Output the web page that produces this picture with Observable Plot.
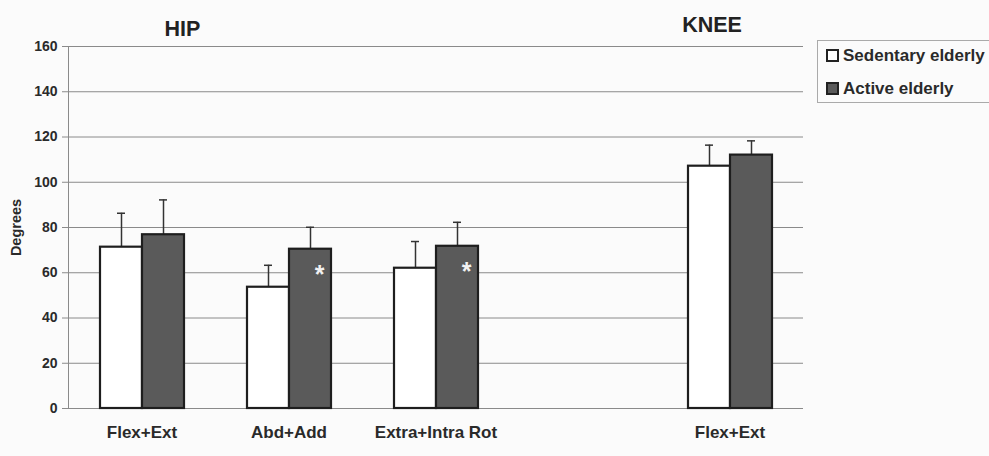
<!DOCTYPE html>
<html>
<head>
<meta charset="utf-8">
<script src="https://cdn.jsdelivr.net/npm/d3@7"></script>
<script src="https://cdn.jsdelivr.net/npm/@observablehq/plot@0.6"></script>
<style>
  html, body { margin: 0; padding: 0; background: #fbfbfb; }
  #wrap { position: relative; width: 989px; height: 456px; overflow: hidden; font-family: "Liberation Sans", Arial, sans-serif; }
  #legend { position: absolute; left: 817px; top: 40px; width: 190px; height: 61px; border: 1px solid #aaa; background: #fbfbfb; }
  .item { position: absolute; left: 8px; font-weight: bold; font-size: 17px; line-height: 19px; color: #2a2a2a; display: flex; align-items: center; white-space: nowrap; }
  .sw { width: 9px; height: 9px; border: 2px solid #222; margin-right: 4px; }
</style>
</head>
<body>
<div id="wrap">
  <div id="chart"></div>
  <div id="legend"></div>
</div>
<script>
const catKeys = ["hipFlex", "hipAbd", "hipRot", "blank", "kneeFlex"];
const catLabels = ["Flex+Ext", "Abd+Add", "Extra+Intra Rot", "", "Flex+Ext"];
const groups = ["Sedentary elderly", "Active elderly"];
const groupFills = ["#ffffff", "#5a5a5a"];
const sedentaryMean = [71.3, 53.6, 62.0, null, 107.1];
const sedentarySD = [15.0, 9.7, 11.8, null, 9.3];
const activeMean = [76.8, 70.4, 71.7, null, 112.0];
const activeSD = [15.4, 9.7, 10.6, null, 6.3];
const significant = [false, true, true, false, false];
const hipTitle = [{cat: "hipFlex", title: "HIP"}];
const kneeTitle = [{cat: "kneeFlex", title: "KNEE"}];
const yTicks = [0, 20, 40, 60, 80, 100, 120, 140, 160];

const rows = [];
catKeys.forEach((c, i) => {
  rows.push({cat: c, group: groups[0], mean: sedentaryMean[i], sd: sedentarySD[i], sig: false});
  rows.push({cat: c, group: groups[1], mean: activeMean[i], sd: activeSD[i], sig: significant[i]});
});
const valid = rows.filter(d => d.mean != null);
const labelOf = Object.fromEntries(catKeys.map((k, i) => [k, catLabels[i]]));
const tickRows = yTicks.map(v => ({cat: catKeys[0], v}));

const chart = Plot.plot({
  width: 989,
  height: 456,
  marginLeft: 68,
  marginRight: 186,
  marginTop: 46,
  marginBottom: 48,
  style: {background: "transparent", fontFamily: "Liberation Sans, Arial, sans-serif", fontWeight: "bold", color: "#2a2a2a"},
  fx: {domain: catKeys, padding: 0, label: null},
  x: {domain: groups, paddingInner: 0, paddingOuter: 0.75, axis: null},
  y: {domain: [0, 160], label: null},
  color: {domain: groups, range: groupFills},
  marks: [
    Plot.ruleY(yTicks, {stroke: "#8a8a8a", strokeWidth: 1}),
    Plot.frame({anchor: "left", stroke: "#8a8a8a", facet: "super"}),
    Plot.axisY({ticks: yTicks, tickSize: 6, tickPadding: 5, tickFormat: () => "", fontSize: 14.5, stroke: "#8a8a8a", label: "Degrees", labelAnchor: "center", labelOffset: 57.5, labelArrow: false}),
    Plot.text(tickRows, {fx: "cat", y: "v", text: d => String(d.v), frameAnchor: "left", textAnchor: "end", dx: -11, fontSize: 14, fill: "#2a2a2a"}),
    Plot.axisFx({anchor: "bottom", tickSize: 0, tickPadding: 17.5, fontSize: 17, tickFormat: d => labelOf[d], label: null}),
    Plot.ruleX(valid, {fx: "cat", x: "group", y1: "mean", y2: d => d.mean + d.sd, stroke: "#333", strokeWidth: 1.5}),
    Plot.tickY(valid, {fx: "cat", x: "group", y: d => d.mean + d.sd, stroke: "#333", strokeWidth: 1.5, insetLeft: 17, insetRight: 17}),
    Plot.barY(rows, {fx: "cat", x: "group", y: "mean", fill: "group", stroke: "#1e1e1e", strokeWidth: 2.2}),
    Plot.text(valid.filter(d => d.sig), {fx: "cat", x: "group", y: "mean", text: () => "*", fill: "#f2f2f2", fontSize: 25, dx: 9, dy: 26}),
    Plot.text(hipTitle, {fx: "cat", text: "title", frameAnchor: "top", lineAnchor: "middle", dy: -17, dx: 40.5, fontSize: 21.5, fill: "#222"}),
    Plot.text(kneeTitle, {fx: "cat", text: "title", frameAnchor: "top", lineAnchor: "middle", dy: -21, dx: -18, fontSize: 21.5, fill: "#222"})
  ]
});
document.getElementById("chart").appendChild(chart);

const legend = document.getElementById("legend");
groups.forEach((g, i) => {
  const item = document.createElement("div");
  item.className = "item";
  item.style.top = (i === 0 ? 5 : 38) + "px";
  const sw = document.createElement("span");
  sw.className = "sw";
  sw.style.background = groupFills[i];
  item.appendChild(sw);
  item.appendChild(document.createTextNode(g));
  legend.appendChild(item);
});
</script>
</body>
</html>
